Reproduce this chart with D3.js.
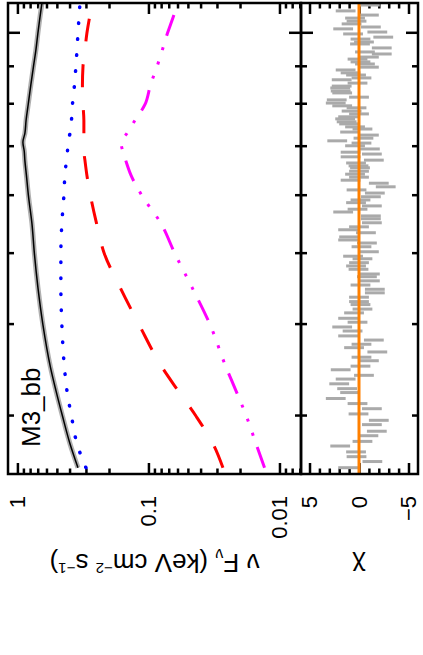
<!DOCTYPE html>
<html>
<head>
<title>M3_bb spectrum</title>
<style>
  body, html { margin: 0; padding: 0; background: #fff; }
  svg { display: block; font-family: "Liberation Sans", Arial, sans-serif; }
</style>
</head>
<body>

<svg id="svg" width="423" height="655"></svg>

<script src="https://d3js.org/d3.v7.min.js"></script>
<script>
// model grid, keV
const energy = [2.55, 2.75, 3, 3.25, 3.5, 4, 4.5, 5, 5.5, 6, 6.4, 6.7, 6.9, 7.1, 7.3, 7.6, 8, 8.5, 9, 9.5, 10, 10.5, 11]
// total model (black) and components, nu F_nu
const total    = [0.345, 0.397, 0.453, 0.508, 0.560, 0.639, 0.698, 0.742, 0.775, 0.824, 0.854, 0.877, 0.887, 0.908, 0.877, 0.859, 0.827, 0.790, 0.755, 0.722, 0.698, 0.674, 0.650]
const compBB   = [0.300, 0.351, 0.387, 0.419, 0.438, 0.458, 0.466, 0.466, 0.458, 0.442, 0.434, 0.423, 0.415, 0.412, 0.397, 0.387, 0.380, 0.367, 0.358, 0.351, 0.345, 0.339, 0.333]
const compPL   = [0.0270, 0.0322, 0.0434, 0.0595, 0.0789, 0.118, 0.165, 0.217, 0.249, 0.277, 0.295, 0.305, 0.311, 0.311, 0.311, 0.311, 0.316, 0.319, 0.316, 0.305, 0.295, 0.282, 0.270]
const compRefl = [0.0130, 0.0151, 0.0179, 0.0215, 0.0256, 0.0339, 0.0466, 0.0628, 0.0803, 0.112, 0.136, 0.149, 0.157, 0.162, 0.146, 0.127, 0.106, 0.0965, 0.0861, 0.0782, 0.0716, 0.0650, 0.0595]

// residual bins
const binEnergy = [2.55, 2.60, 2.64, 2.68, 2.73, 2.77, 2.82, 2.86, 2.92, 2.96, 3.02, 3.07, 3.12, 3.17, 3.23, 3.27, 3.32, 3.37, 3.41, 3.47,
  3.51, 3.57, 3.61, 3.67, 3.72, 3.76, 3.81, 3.86, 3.92, 3.97, 4.03, 4.08, 4.15, 4.20, 4.26, 4.30, 4.36, 4.42, 4.47, 4.53,
  4.59, 4.65, 4.69, 4.76, 4.81, 4.86, 4.92, 4.96, 5.03, 5.11, 5.17, 5.22, 5.27, 5.34, 5.39, 5.44, 5.51, 5.58, 5.63, 5.70,
  5.75, 5.81, 5.87, 5.92, 5.98, 6.05, 6.11, 6.17, 6.24, 6.30, 6.36, 6.42, 6.48, 6.55, 6.59, 6.65, 6.71, 6.78, 6.84, 6.88,
  6.95, 7.02, 7.08, 7.13, 7.19, 7.26, 7.33, 7.40, 7.45, 7.52, 7.57, 7.64, 7.69, 7.76, 7.83, 7.91, 7.96, 8.03, 8.11, 8.18,
  8.29, 8.34, 8.42, 8.47, 8.55, 8.64, 8.69, 8.77, 8.83, 8.91, 8.99, 9.08, 9.14, 9.22, 9.28, 9.37, 9.43, 9.55, 9.67, 9.73,
  9.82, 9.88, 9.98, 10.04, 10.14, 10.20, 10.30, 10.39, 10.49, 10.59, 10.73, 10.93]
const chi = [1.1, -1.35, 0.25, 0.3, 1.9, -0.35, -0.95, -1.8, -1.3, -2, 0.05, -1.3, 0.15, 2.35, 0.9, 1.2, 2, 1.35, -0.5, 1.85,
  -0.15, -1, -0.25, -1.85, 0.5, -0.25, -1.5, 1.1, 0.65, 1.7, 0.15, 1.1, 0.5, -0.35, -0.15, 0, 0, -1.6, -1.6, -0.15,
  -1.1, -0.8, -1.1, 0.05, 0.3, 0, -0.35, 0.6, -1, -0.25, -0.8, 1.1, 1, -0.7, 1.1, 0, -1.3, -1.2, -1.2, 1.6,
  0.15, -1.3, 0.3, -0.15, -1.2, -1.6, 0.25, -2.7, -2, 0.85, 0, 0.4, 0, -0.1, 0.05, 0.3, -1.5, 0.85, -1.3, 0.85,
  -1.1, 0.4, -0.25, 2.2, -0.45, -1, 0.9, -0.35, 0.4, 1, 1.25, 1.4, 1.1, 0, 0.75, 0.25, 1.7, 2.35, 2.25, 0,
  1.7, 1.85, 1.9, 1.75, 0.15, 1.75, -0.25, 0.3, 0.85, 1.35, -1, -0.6, -0.15, 0.15, -1, -2.3, -0.6, -2.3, -0.1, -0.5,
  -0.15, -2.45, 0.6, -1.85, 1.6, -1.2, 0.75, 0.25, 0.4, -1, 1.35, -1.1]

// axis ticks
const energyMajor = [10]
const energyMinor = [3, 4, 5, 6, 7, 8, 9]
const fluxMajor = [1, 0.1, 0.01]
const fluxLabels = ['1', '0.1', '0.01']
const fluxMinor = [0.9, 0.8, 0.7, 0.6, 0.5, 0.4, 0.3, 0.2, 0.09, 0.08, 0.07, 0.06, 0.05, 0.04, 0.03, 0.02, 0.009, 0.008, 0.007]
const chiMajor = [5, 0, -5]
const chiLabels = ['5', '0', '\u22125']
const chiMinor = [4, 3, 2, 1, -1, -2, -3, -4]

// the plot is drawn unrotated (energy across) and then turned 90 degrees
const W = 655
const svg = d3.select('#svg')
const g = svg.append('g').attr('transform', `translate(0,${W}) rotate(-90)`)

const x = d3.scaleLog().domain([2.5, 11]).range([181, 652])
const y = d3.scaleLog().domain([1.18, 0.00685]).range([8, 301])
const yChi = d3.scaleLinear().domain([5.86, -5.96]).range([301, 418])

// tick helper: bare tick marks, no domain line, no labels
function tickRow(axis, values, size, tx, ty) {
  g.append('g')
    .attr('transform', `translate(${tx},${ty})`)
    .call(axis.tickValues(values).tickSize(size).tickFormat(''))
    .call(a => a.select('.domain').remove())
    .selectAll('line').attr('stroke', '#000').attr('stroke-width', 2.5)
}

// energy ticks: top of main, shared border (both sides), bottom of residual
tickRow(d3.axisBottom(x), energyMajor, 12, 0, 8)
tickRow(d3.axisBottom(x), energyMinor, 6, 0, 8)
tickRow(d3.axisBottom(x), energyMajor, -12, 0, 301)
tickRow(d3.axisBottom(x), energyMinor, -6, 0, 301)
tickRow(d3.axisBottom(x), energyMajor, 12, 0, 301)
tickRow(d3.axisBottom(x), energyMinor, 6, 0, 301)
tickRow(d3.axisBottom(x), energyMajor, -12, 0, 418)
tickRow(d3.axisBottom(x), energyMinor, -6, 0, 418)

// flux and chi ticks on both sides
tickRow(d3.axisRight(y), fluxMajor, 11, 181, 0)
tickRow(d3.axisRight(y), fluxMinor, 5.5, 181, 0)
tickRow(d3.axisRight(y), fluxMajor, -11, 652, 0)
tickRow(d3.axisRight(y), fluxMinor, -5.5, 652, 0)
tickRow(d3.axisRight(yChi), chiMajor, 11, 181, 0)
tickRow(d3.axisRight(yChi), chiMinor, 5.5, 181, 0)
tickRow(d3.axisRight(yChi), chiMajor, -11, 652, 0)
tickRow(d3.axisRight(yChi), chiMinor, -5.5, 652, 0)

// tick labels
function labelRow(scale, values, labels) {
  g.append('g')
    .attr('transform', 'translate(181,0)')
    .call(d3.axisLeft(scale).tickValues(values).tickSize(0).tickPadding(22)
      .tickFormat((d, i) => labels[i]))
    .call(a => a.select('.domain').remove())
    .attr('font-family', null)
    .attr('font-size', 22)
    .selectAll('text').attr('fill', '#000')
}
labelRow(y, fluxMajor, fluxLabels)
labelRow(yChi, chiMajor, chiLabels)

// residuals: +-1 sigma bars
g.append('g')
  .selectAll('line')
  .data(binEnergy)
  .join('line')
  .attr('x1', d => x(d))
  .attr('x2', d => x(d))
  .attr('y1', (d, i) => yChi(chi[i] + 1))
  .attr('y2', (d, i) => yChi(chi[i] - 1))
  .attr('stroke', '#aaaaaa')
  .attr('stroke-width', 3)

g.append('line')
  .attr('x1', x(2.5)).attr('x2', x(11))
  .attr('y1', yChi(0)).attr('y2', yChi(0))
  .attr('stroke', '#ff8000')
  .attr('stroke-width', 3)

// model curves
const line = vals => d3.line()
  .x((d, i) => x(energy[i]))
  .y((d, i) => y(vals[i]))
  .curve(d3.curveMonotoneX)(vals)

g.append('path').attr('d', line(total))
  .attr('fill', 'none').attr('stroke', '#b0b0b0').attr('stroke-width', 5)
g.append('path').attr('d', line(compBB))
  .attr('fill', 'none').attr('stroke', '#0000ff').attr('stroke-width', 3.5)
  .attr('stroke-linecap', 'round').attr('stroke-dasharray', '0.5,15.5')
g.append('path').attr('d', line(compPL))
  .attr('fill', 'none').attr('stroke', '#ff0000').attr('stroke-width', 3)
  .attr('stroke-dasharray', '23,23')
g.append('path').attr('d', line(compRefl))
  .attr('fill', 'none').attr('stroke', '#ff00ff').attr('stroke-width', 3)
  .attr('stroke-dasharray', '22,12,3,12,3,12,3,12')
g.append('path').attr('d', line(total))
  .attr('fill', 'none').attr('stroke', '#000').attr('stroke-width', 1.5)

// frames
g.append('rect').attr('x', 181).attr('y', 8).attr('width', 471).attr('height', 293)
  .attr('fill', 'none').attr('stroke', '#000').attr('stroke-width', 2.5)
g.append('rect').attr('x', 181).attr('y', 301).attr('width', 471).attr('height', 117)
  .attr('fill', 'none').attr('stroke', '#000').attr('stroke-width', 2.5)

// texts
g.append('text').attr('x', 208).attr('y', 40)
  .attr('font-size', 26).text('M3_bb')

const title = g.append('text')
  .attr('transform', `translate(101,${(8 + 301) / 2}) rotate(-90)`)
  .attr('text-anchor', 'middle')
  .attr('font-size', 26)
title.append('tspan').text('\u03bd F')
title.append('tspan').attr('font-size', 16).attr('dy', 5).text('\u03bd')
title.append('tspan').attr('dy', -5).text(' (keV cm')
title.append('tspan').attr('font-size', 15).attr('dy', -9).text('\u22122')
title.append('tspan').attr('dy', 9).text(' s')
title.append('tspan').attr('font-size', 15).attr('dy', -9).text('\u22121')
title.append('tspan').attr('dy', 9).text(')')

g.append('text')
  .attr('transform', `translate(98,${yChi(0)}) rotate(-90)`)
  .attr('text-anchor', 'middle')
  .attr('font-size', 26)
  .text('\u03c7')
</script>
</body>
</html>
